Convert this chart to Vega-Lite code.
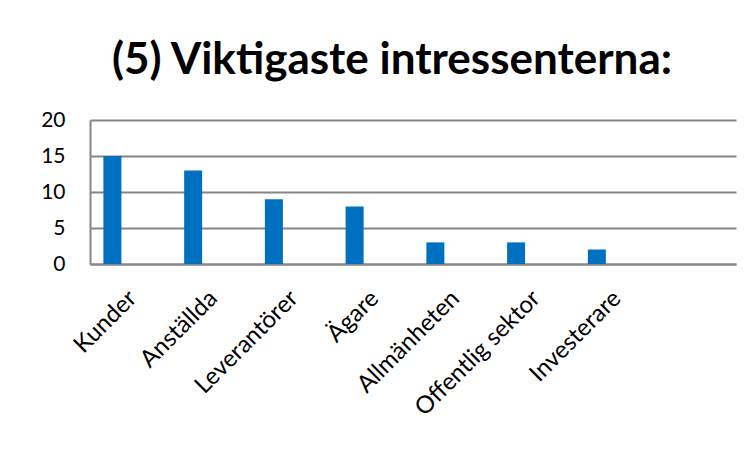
{
  "$schema": "https://vega.github.io/schema/vega-lite/v6.json",
  "width": 646,
  "height": 144,
  "autosize": {"type": "none"},
  "padding": {"left": 90, "top": 120, "right": 16, "bottom": 191},
  "background": "white",
  "title": {
    "text": "(5) Viktigaste intressenterna:",
    "font": "Lato",
    "fontSize": 44,
    "fontWeight": "bold",
    "color": "black",
    "anchor": "middle",
    "baseline": "alphabetic",
    "dx": -21,
    "dy": 56,
    "offset": 47
  },
  "data": {
    "values": [
      {"kategori": "Kunder", "serie": "A", "antal": 15},
      {"kategori": "Anställda", "serie": "A", "antal": 13},
      {"kategori": "Leverantörer", "serie": "A", "antal": 9},
      {"kategori": "Ägare", "serie": "A", "antal": 8},
      {"kategori": "Allmänheten", "serie": "A", "antal": 3},
      {"kategori": "Offentlig sektor", "serie": "A", "antal": 3},
      {"kategori": "Investerare", "serie": "A", "antal": 2}
    ]
  },
  "mark": {"type": "bar", "color": "#0070C0"},
  "encoding": {
    "x": {
      "field": "kategori",
      "type": "nominal",
      "sort": null,
      "scale": {
        "domain": ["Kunder", "Anställda", "Leverantörer", "Ägare", "Allmänheten", "Offentlig sektor", "Investerare", " "],
        "paddingInner": 0.331,
        "paddingOuter": 0.166
      },
      "axis": {
        "title": null,
        "labelAngle": -45,
        "labelFont": "Lato",
        "labelFontSize": 24,
        "labelColor": "black",
        "labelPadding": 22,
        "labelOffset": -6,
        "ticks": false,
        "domainColor": "#868686",
        "domainWidth": 2,
        "grid": false
      }
    },
    "xOffset": {
      "field": "serie",
      "type": "nominal",
      "scale": {"domain": ["A", "B", "C"], "paddingInner": 0, "paddingOuter": 0}
    },
    "y": {
      "field": "antal",
      "type": "quantitative",
      "scale": {"domain": [0, 20], "nice": false},
      "axis": {
        "title": null,
        "values": [0, 5, 10, 15, 20],
        "labelFont": "Lato",
        "labelFontSize": 21,
        "labelColor": "black",
        "labelPadding": 25,
        "ticks": false,
        "domainColor": "#868686",
        "domainWidth": 2,
        "gridColor": "#868686",
        "gridWidth": 2
      }
    }
  },
  "config": {
    "view": {"stroke": null}
  }
}
